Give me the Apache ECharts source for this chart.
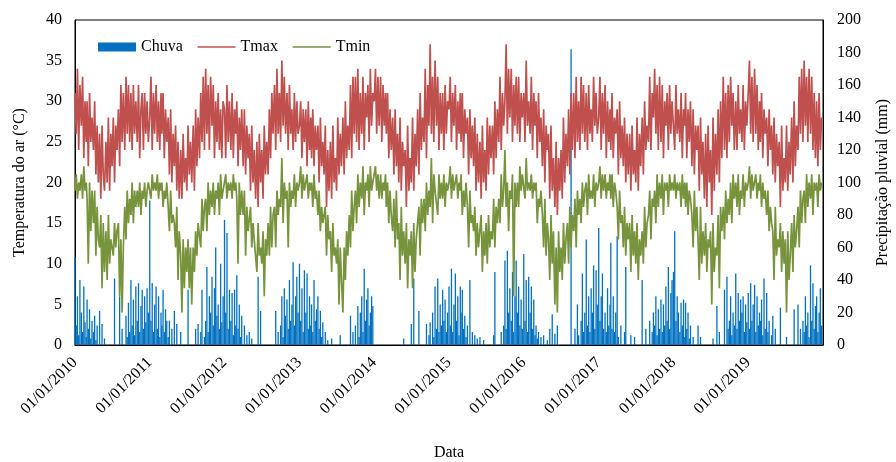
<!DOCTYPE html>
<html>
<head>
<meta charset="utf-8">
<script src="https://cdn.jsdelivr.net/npm/echarts@6/dist/echarts.min.js"></script>
<style>html,body{margin:0;padding:0;background:#fff;}#c{width:896px;height:462px;}</style>
</head>
<body>
<div id="c"></div>
<script>
// Years shown on the axis and the sampling days used within each month
const years = [2010, 2011, 2012, 2013, 2014, 2015, 2016, 2017, 2018, 2019];
const slotDays = [1, 7, 13, 19, 25];
const tickLabels = ['01/01/2010','01/01/2011','01/01/2012','01/01/2013','01/01/2014','01/01/2015','01/01/2016','01/01/2017','01/01/2018','01/01/2019'];

// Tmax (°C), 5 readings per month, Jan..Dec per year
const tmax = [
/*2010*/ 31,26,34,24,32, 27,33,23,30,25, 30,22,31,25,28, 24,30,21,27,20, 26,18,27,21,19, 25,20,28,19,26, 22,28,20,27,24, 29,22,32,25,31, 24,33,26,32,25, 31,24,32,26,30, 25,32,23,29,31, 24,31,26,30,25,
/*2011*/ 28,33,24,31,26, 32,25,30,24,31, 26,31,23,29,25, 28,21,29,20,26, 22,27,19,25,18, 24,18,26,20,23, 19,27,21,25,20, 27,19,29,22,28, 23,31,25,33,24, 34,26,32,24,33, 27,32,23,30,25, 31,24,29,23,30,
/*2012*/ 29,23,32,25,30, 24,31,23,29,26, 30,22,28,24,29, 22,29,21,27,23, 26,19,27,20,24, 18,25,17,26,20, 24,18,27,21,25, 21,29,23,31,26, 32,24,34,26,31, 25,35,27,33,26, 31,24,32,26,29, 24,31,25,30,26,
/*2013*/ 27,30,23,29,25, 29,22,30,24,28, 23,29,22,27,24, 27,20,28,22,25, 21,27,17,24,19, 25,18,27,20,23, 19,28,21,26,22, 28,21,30,23,27, 24,32,23,33,26, 33,25,34,24,31, 26,33,24,31,28, 32,25,34,27,31,
/*2014*/ 30,34,26,33,27, 33,25,32,27,31, 26,31,23,29,24, 28,21,29,22,26, 20,28,19,25,22, 24,17,27,19,23, 20,28,19,26,22, 29,21,31,24,28, 25,34,23,32,27, 37,26,33,25,35, 27,33,24,31,26, 31,24,32,26,30,
/*2015*/ 29,33,25,31,27, 32,24,30,26,31, 25,31,23,29,26, 28,21,29,23,27, 22,28,19,26,20, 25,18,27,20,24, 19,28,21,27,23, 27,21,30,23,29, 25,33,24,31,27, 30,37,26,34,28, 34,25,32,27,33, 26,33,25,31,28,
/*2016*/ 31,25,35,27,30, 26,33,24,31,27, 30,23,31,25,28, 22,29,20,27,24, 26,18,27,19,23, 17,25,16,23,19, 24,18,28,20,26, 22,29,21,31,24, 31,23,33,25,30, 24,33,26,32,25, 31,24,32,26,29, 25,33,27,31,26,
/*2017*/ 28,33,24,31,26, 32,23,30,25,29, 24,31,23,28,26, 29,21,30,23,27, 22,28,20,26,21, 26,19,27,21,24, 20,28,19,26,22, 28,21,30,24,27, 25,33,24,31,28, 34,26,32,24,33, 25,32,23,30,27, 31,24,32,26,30,
/*2018*/ 30,24,32,26,29, 25,31,23,29,27, 31,23,29,25,30, 22,29,21,27,24, 27,19,28,21,25, 18,26,17,27,20, 24,16,28,19,26, 21,29,20,30,23, 33,24,31,23,32, 25,33,27,31,24, 30,24,32,26,29, 25,32,24,30,27,
/*2019*/ 31,35,26,33,25, 34,26,32,24,30, 25,31,23,29,26, 28,22,29,24,27, 21,28,20,26,22, 25,17,27,19,23, 20,27,19,25,21, 28,20,30,22,27, 24,33,26,34,25, 35,27,33,25,34, 26,33,24,31,23, 30,22,31,24,28
];

// Tmin (°C)
const tmin = [
/*2010*/ 19,21,18,20,19, 21,18,22,19,20, 18,10,20,14,19, 15,19,11,17,13, 12,16,7,15,9, 14,8,16,10,13, 13,11,15,12,14, 15,6,13,4,12, 17,13,19,15,18, 16,20,15,19,17, 19,17,20,16,19, 18,20,17,19,20,
/*2011*/ 20,18,21,19,20, 19,21,18,20,19, 20,17,19,18,20, 17,14,19,15,16, 15,12,17,8,14, 11,4,13,7,12, 9,13,7,12,5, 12,9,14,11,15, 15,12,18,14,17, 18,14,20,16,19, 17,20,16,19,18, 20,16,21,18,19,
/*2012*/ 19,21,18,20,19, 20,18,21,19,20, 18,10,20,16,19, 16,19,11,17,14, 14,17,12,15,13, 13,9,15,11,12, 10,14,6,13,11, 15,11,17,12,16, 17,12,19,16,18, 17,23,15,20,18, 19,12,20,17,19, 18,21,17,20,19,
/*2013*/ 20,22,18,21,19, 19,21,18,20,19, 20,17,21,18,19, 16,19,14,17,15, 15,17,11,16,13, 14,9,15,11,12, 10,13,5,12,8, 4,12,8,14,11, 16,12,19,14,17, 19,15,21,17,20, 18,22,16,20,19, 21,17,22,19,20,
/*2014*/ 20,22,19,21,18, 21,18,20,19,21, 17,20,15,19,16, 14,18,12,19,13, 15,8,17,11,14, 10,15,7,13,11, 14,7,15,9,13, 13,17,11,18,15, 18,14,20,16,19, 17,23,15,21,19, 19,16,21,18,20, 18,21,17,20,19,
/*2015*/ 20,22,18,21,19, 19,21,18,20,19, 21,16,19,17,20, 17,12,19,15,16, 14,17,11,15,12, 12,16,9,14,11, 15,10,16,12,14, 13,18,12,17,15, 18,15,21,17,19, 24,17,20,14,19, 18,21,6,20,17, 20,17,22,19,21,
/*2016*/ 21,18,23,19,20, 19,21,18,20,19, 20,15,18,17,19, 16,12,18,11,15, 13,8,16,10,14, 5,12,4,14,9, 12,8,15,10,13, 15,10,17,12,16, 14,18,12,19,16, 18,15,20,17,19, 20,16,21,18,19, 18,21,17,20,19,
/*2017*/ 20,22,18,21,19, 21,18,20,19,21, 18,21,17,20,19, 17,13,19,15,16, 12,17,11,15,13, 15,9,16,11,14, 10,15,8,13,11, 14,10,17,12,15, 16,19,13,18,17, 19,15,21,17,20, 18,21,16,20,19, 20,17,21,19,20,
/*2018*/ 19,21,18,20,19, 20,17,21,18,20, 17,20,16,19,18, 16,12,19,14,17, 13,8,17,10,14, 11,15,9,13,12, 14,5,15,9,12, 11,16,7,17,14, 17,13,19,15,18, 16,20,15,21,18, 20,17,21,16,19, 18,21,17,20,19,
/*2019*/ 20,22,18,21,19, 19,21,18,20,19, 21,17,20,18,19, 16,19,14,17,15, 14,8,17,11,13, 12,15,9,14,10, 13,4,14,8,11, 15,9,16,12,14, 17,12,19,15,18, 19,15,21,17,20, 18,21,16,20,19, 20,17,21,19,20
];

// Chuva (mm)
const chuva = [
/*2010*/ 54,12,30,6,40, 20,8,36,14,5, 28,10,22,4,15, 8,18,3,12,0, 21,0,13,0,4, 0,0,0,0,0, 0,0,41,0,0, 0,30,0,10,0, 0,18,5,26,8, 40,12,28,6,36, 15,38,8,24,34, 10,30,14,35,20,
/*2011*/ 89,15,38,8,25, 36,10,30,5,20, 12,34,8,22,15, 5,15,0,10,0, 21,0,13,0,0, 8,0,0,0,0, 0,34,0,0,0, 0,0,10,0,13, 0,8,34,0,5, 15,48,8,30,20, 42,12,35,60,18, 25,10,50,14,30,
/*2012*/ 77,20,69,10,34, 15,32,6,34,12, 43,10,25,5,18, 0,12,0,6,0, 8,0,4,0,0, 0,0,42,0,21, 0,0,0,0,0, 0,0,0,0,0, 0,21,0,8,0, 12,30,5,35,18, 28,10,40,15,25, 51,12,30,42,20,
/*2013*/ 50,15,35,8,46, 20,44,10,30,12, 25,8,40,15,22, 30,10,21,5,14, 0,8,0,3,0, 0,4,0,0,0, 0,0,0,6,0, 0,0,0,0,0, 0,18,0,8,0, 12,0,24,5,20, 30,8,47,15,28, 35,12,20,30,24,
/*2014*/ 0,0,0,0,0, 0,0,0,0,0, 0,0,0,0,0, 0,0,0,0,0, 0,0,0,0,4, 0,0,0,0,0, 13,0,41,0,0, 0,21,0,0,0, 0,0,13,0,6, 14,0,20,5,36, 10,41,8,25,12, 34,15,28,8,20,
/*2015*/ 36,12,47,8,25, 44,15,30,6,36, 20,34,10,18,5, 12,0,40,0,8, 0,6,0,4,0, 5,0,0,3,0, 0,0,0,0,0, 0,6,45,0,0, 0,0,8,0,12, 52,10,58,20,35, 15,45,8,30,52, 20,36,12,28,10,
/*2016*/ 56,15,40,8,42, 20,36,10,28,6, 12,4,8,0,5, 0,6,0,0,3, 0,10,0,19,0, 7,0,12,0,0, 0,0,0,0,0, 0,0,0,182,0, 0,10,0,25,6, 0,15,44,8,20, 65,12,30,8,35, 20,49,10,46,25,
/*2017*/ 72,15,30,44,10, 20,8,35,12,25, 63,10,30,8,20, 67,5,0,12,0, 0,8,48,0,0, 0,6,0,0,5, 0,0,0,0,0, 40,0,0,10,0, 0,15,0,8,20, 12,30,6,22,10, 28,8,25,12,36, 15,48,10,32,40,
/*2018*/ 45,70,15,30,20, 8,26,12,28,5, 26,10,20,4,12, 0,5,0,0,0, 12,0,5,0,0, 0,0,0,0,0, 0,0,4,0,0, 24,0,8,0,0, 0,34,0,42,10, 15,30,6,20,12, 44,10,32,15,28, 20,30,8,25,14,
/*2019*/ 32,10,38,15,25, 37,8,30,12,20, 15,28,6,41,10, 32,8,15,0,6, 18,0,10,0,0, 0,23,0,0,0, 0,5,0,0,0, 0,0,22,0,0, 25,0,10,0,15, 8,30,12,20,5, 49,15,38,10,24, 30,8,20,35,12
];

// Build dates (x positions, as timestamps) for each reading
const dates = [];
years.forEach(y => { for (let m = 0; m < 12; m++) slotDays.forEach(d => dates.push(new Date(y, m, d).getTime())); });
const pair = arr => arr.map((v, i) => [dates[i], v]);
const yearTicks = years.map(y => new Date(y, 0, 1).getTime());
const xMin = new Date(2010, 0, 1).getTime();
const xMax = new Date(2020, 0, 1).getTime();

const FONT = 'Liberation Serif';
const chart = echarts.init(document.getElementById('c'), null, {renderer: 'canvas'});
chart.setOption({
  animation: false,
  backgroundColor: '#fff',
  textStyle: {fontFamily: FONT, color: '#000'},
  grid: {left: 75, right: 73, top: 20, bottom: 117, outerBoundsMode: 'none', containLabel: false,
         show: true, borderColor: '#000', borderWidth: 1, backgroundColor: 'transparent'},
  legend: {
    left: 93, top: 34, itemWidth: 38, itemHeight: 9, itemGap: 14,
    textStyle: {fontFamily: FONT, fontSize: 16, color: '#000'},
    data: [
      {name: 'Chuva', icon: 'rect'},
      {name: 'Tmax', itemStyle: {opacity: 0}, lineStyle: {width: 1.6}},
      {name: 'Tmin', itemStyle: {opacity: 0}, lineStyle: {width: 1.6}}
    ]
  },
  xAxis: {
    type: 'value',
    min: xMin, max: xMax,
    name: 'Data', nameLocation: 'middle', nameGap: 100,
    nameTextStyle: {fontFamily: FONT, fontSize: 16, color: '#000'},
    axisLine: {show: true, onZero: false, lineStyle: {color: '#000', width: 1}},
    axisTick: {show: false},
    splitLine: {show: false},
    axisLabel: {
      customValues: yearTicks,
      rotate: 45, margin: 15, fontFamily: FONT, fontSize: 16, color: '#000',
      formatter: v => tickLabels[years.indexOf(new Date(v).getFullYear())] || ''
    }
  },
  yAxis: [{
    type: 'value', min: 0, max: 40, interval: 5,
    name: 'Temperatura do ar (°C)', nameLocation: 'middle', nameGap: 47, nameRotate: 90,
    nameTextStyle: {fontFamily: FONT, fontSize: 16, color: '#000'},
    axisLine: {show: true, lineStyle: {color: '#000', width: 1}},
    axisTick: {show: false}, splitLine: {show: false},
    axisLabel: {fontFamily: FONT, fontSize: 16, color: '#000', margin: 13}
  }, {
    type: 'value', min: 0, max: 200, interval: 20, position: 'right',
    name: 'Precipitação pluvial (mm)', nameLocation: 'middle', nameGap: 52, nameRotate: 90,
    nameTextStyle: {fontFamily: FONT, fontSize: 16, color: '#000'},
    axisLine: {show: true, lineStyle: {color: '#000', width: 1}},
    axisTick: {show: false}, splitLine: {show: false},
    axisLabel: {fontFamily: FONT, fontSize: 16, color: '#000', margin: 14}
  }],
  series: [{
    name: 'Chuva', type: 'bar', yAxisIndex: 1, data: pair(chuva),
    barWidth: 1.3, itemStyle: {color: '#0070C0'}, z: 1
  }, {
    name: 'Tmax', type: 'line', yAxisIndex: 0, data: pair(tmax),
    symbol: 'none', color: '#C0504D',
    lineStyle: {color: '#C0504D', width: 1.7}, z: 2
  }, {
    name: 'Tmin', type: 'line', yAxisIndex: 0, data: pair(tmin),
    symbol: 'none', color: '#77933C',
    lineStyle: {color: '#77933C', width: 1.7}, z: 3
  }]
});
</script>
</body>
</html>
